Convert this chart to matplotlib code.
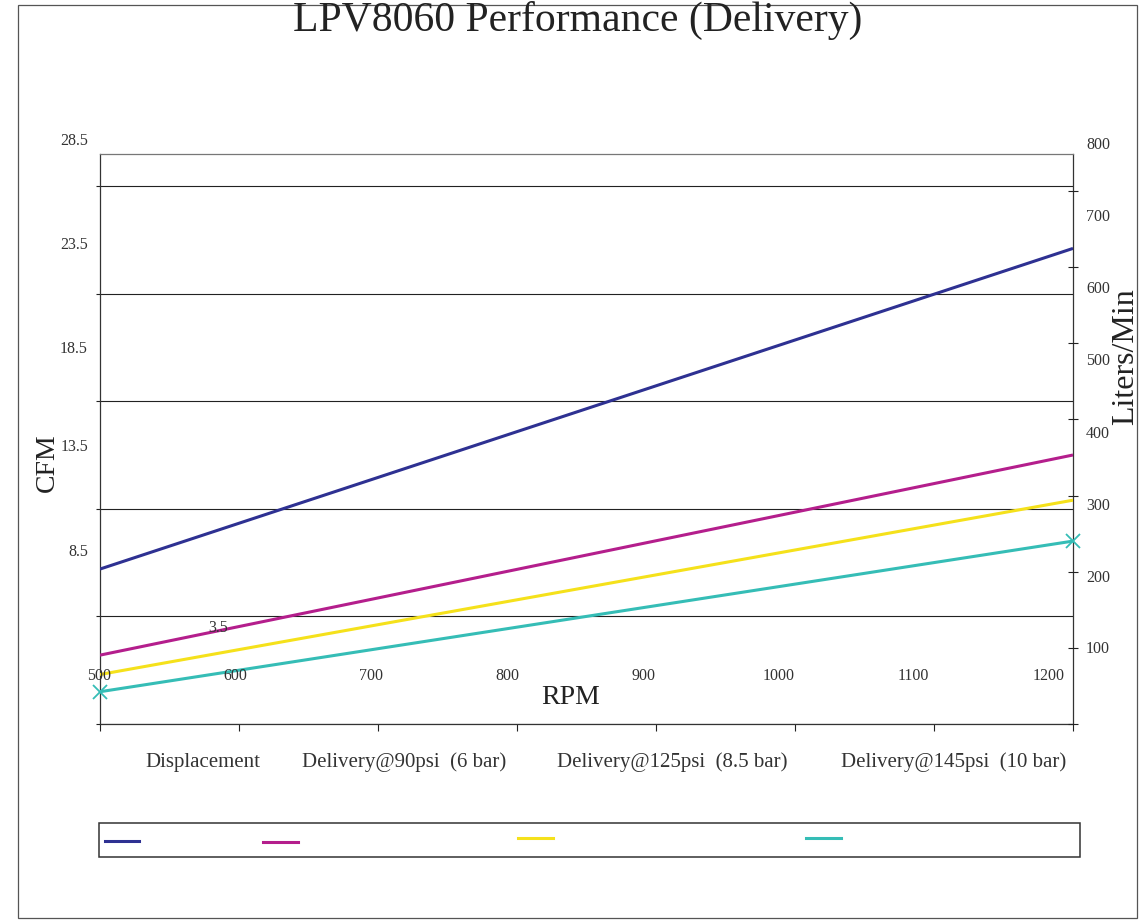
import matplotlib
matplotlib.use("Agg")
import matplotlib.pyplot as plt
from matplotlib.lines import Line2D
from matplotlib.patches import Rectangle

W, H = 1144, 922

# data (CFM at start / end RPM)
rpm = [500, 1200]
displacement = [10.7, 25.6]
delivery_90 = [6.7, 16.0]
delivery_125 = [5.8, 13.9]
delivery_145 = [5.0, 12.0]

series_names = ['Displacement', 'Delivery@90psi  (6 bar)',
                'Delivery@125psi  (8.5 bar)', 'Delivery@145psi  (10 bar)']
series_colors = ['#2E3192', '#B41E8C', '#F5E11B', '#35BDB6']

cfm_ticks = [3.5, 8.5, 13.5, 18.5, 23.5, 28.5]
cfm_labels = ['3.5', '8.5', '13.5', '18.5', '23.5', '28.5']
rpm_ticks = [500, 600, 700, 800, 900, 1000, 1100, 1200]
rpm_labels = ['500', '600', '700', '800', '900', '1000', '1100', '1200']
lpm_ticks = [0, 100, 200, 300, 400, 500, 600, 700]
lpm_labels = ['800', '700', '600', '500', '400', '300', '200', '100']

# where the (misplaced) labels sit, in pixels from top-left
cfm_label_pos = [(218, 628, 'center'), (88, 552, 'right'), (88, 447, 'right'),
                 (88, 349, 'right'), (88, 245, 'right'), (88, 141, 'right')]
rpm_label_x = [99, 235, 371, 507, 643, 779, 913, 1049]
lpm_label_y = [145, 217, 289, 361, 434, 506, 578, 649]
legend_text_x = [145, 302, 557, 841]
legend_line_pos = [(105, 139, 841), (263, 298, 842), (518, 553, 838), (806, 841, 838)]

plt.rcParams['font.family'] = ['Liberation Serif', 'DejaVu Serif']


def fx(x):
    return x / W


def fy(y):
    return 1 - y / H


def main():
    fig = plt.figure(figsize=(W / 100, H / 100), dpi=100)

    ax = fig.add_axes([fx(100), fy(724), 973 / W, 570 / H])
    ax.set_xlim(500, 1200)
    ax.set_ylim(3.5, 3.5 + 570 / 21.52)

    for vals, col in zip([displacement, delivery_90, delivery_125, delivery_145], series_colors):
        ax.plot(rpm, vals, color=col, lw=2.2, solid_capstyle='butt', zorder=3)
    ax.plot(rpm, delivery_145, ls='none', marker='x', ms=10, mew=1.3,
            color=series_colors[3], zorder=4, clip_on=False)

    ax.set_yticks(cfm_ticks)
    ax.set_yticklabels([])
    ax.yaxis.grid(True, color='#222222', lw=0.8)
    ax.set_xticks(rpm_ticks)
    ax.set_xticklabels([])
    ax.tick_params(axis='y', direction='out', length=3, color='#222222', width=0.8)
    ax.tick_params(axis='x', direction='out', length=5, color='#222222', width=0.8)
    for s in ['left', 'bottom', 'right']:
        ax.spines[s].set_color('#333333')
        ax.spines[s].set_linewidth(0.9)
    ax.spines['top'].set_color('#777777')
    ax.spines['top'].set_linewidth(0.9)

    ax2 = ax.twinx()
    ax2.set_ylim(0, 570 / 0.7614)
    ax2.set_yticks(lpm_ticks)
    ax2.set_yticklabels([])
    ax2.tick_params(axis='y', direction='inout', length=7, color='#222222', width=0.8)
    for s in ax2.spines.values():
        s.set_visible(False)

    # tick labels
    for lab, (x, y, ha) in zip(cfm_labels, cfm_label_pos):
        fig.text(fx(x), fy(y), lab, ha=ha, va='center', fontsize=11.5, color='#333333')
    for lab, x in zip(rpm_labels, rpm_label_x):
        fig.text(fx(x), fy(676), lab, ha='center', va='center', fontsize=11.5, color='#333333')
    for lab, y in zip(lpm_labels, lpm_label_y):
        fig.text(fx(1086), fy(y), lab, ha='left', va='center', fontsize=11.5, color='#333333')

    # axis titles
    fig.text(fx(47), fy(463), 'CFM', rotation=90, ha='center', va='center', fontsize=20, color='#222222')
    fig.text(fx(571), fy(697), 'RPM', ha='center', va='center', fontsize=20, color='#222222')
    fig.text(fx(1126), fy(357), 'Liters/Min', rotation=90, ha='center', va='center',
             fontsize=23, color='#222222')
    fig.text(fx(578), fy(31), 'LPV8060 Performance (Delivery)', ha='center', va='baseline',
             fontsize=30, color='#222222')

    # legend
    for name, x in zip(series_names, legend_text_x):
        fig.text(fx(x), fy(762), name, ha='left', va='center', fontsize=15, color='#333333')
    for (x0, x1, y), col in zip(legend_line_pos, series_colors):
        fig.add_artist(Line2D([fx(x0), fx(x1)], [fy(y), fy(y)], color=col, lw=2.2,
                              transform=fig.transFigure))
    fig.add_artist(Rectangle((fx(99), fy(857)), (1080 - 99) / W, (857 - 823) / H,
                             transform=fig.transFigure, fill=False, ec='#333333', lw=1.1))

    # outer frame
    fig.add_artist(Rectangle((fx(18), fy(918)), (1137 - 18) / W, (918 - 5) / H,
                             transform=fig.transFigure, fill=False, ec='#555555', lw=0.9))

    fig.savefig('out.png', dpi=100)


if __name__ == '__main__':
    main()
